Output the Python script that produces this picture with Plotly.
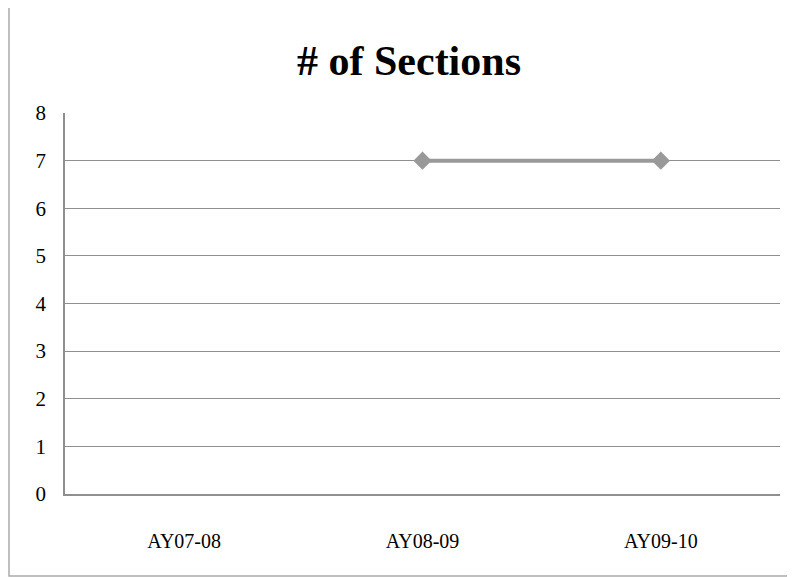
import plotly.graph_objects as go

categories = ["AY07-08", "AY08-09", "AY09-10"]
sections = [None, 7, 7]
y_ticks = [0, 1, 2, 3, 4, 5, 6, 7, 8]

# page body has an 8px margin: shrink figure and shift coordinates
OFF = 8
W, H = 795 - OFF, 577 - OFF
L, R, T, B = 65 - OFF, 15, 113 - OFF, 83
pw, ph = W - L - R, H - T - B

def px(x):
    return (x - OFF - L) / pw

def py(y):
    return (H - B - (y - OFF)) / ph

fig = go.Figure()
fig.add_trace(go.Scatter(
    x=categories, y=sections, mode="lines+markers",
    line=dict(color="#999999", width=4),
    marker=dict(symbol="diamond", size=14, color="#999999"),
    connectgaps=False, showlegend=False, hoverinfo="skip",
))

fig.update_layout(
    width=W, height=H,
    margin=dict(l=L, r=R, t=T, b=B),
    paper_bgcolor="white", plot_bgcolor="white",
    title=dict(text="<b># of Sections</b>", x=(409 - OFF) / W, xanchor="center",
               y=1 - (60 - OFF) / H, yanchor="middle",
               font=dict(family="Liberation Serif", size=42, color="#000")),
    xaxis=dict(type="category", categoryorder="array", categoryarray=categories,
               range=[-0.5, 2.5], showgrid=False, showline=True, linecolor="#8f8f8f",
               linewidth=1.5, ticks="", ticklen=0,
               tickfont=dict(family="Liberation Serif, serif", size=20, color="#000"),
               ticklabelstandoff=28),
    yaxis=dict(range=[0, 8], tickvals=y_ticks, showgrid=True, gridcolor="#8f8f8f",
               gridwidth=1.4, showline=True, linecolor="#8f8f8f", linewidth=1.5,
               zeroline=False, ticks="",
               tickfont=dict(family="Liberation Serif, serif", size=21, color="#000"),
               ticklabelstandoff=13),
    shapes=[dict(type="rect", xref="paper", yref="paper",
                 x0=px(9), x1=px(793), y0=py(576), y1=py(5),
                 line=dict(color="#aaaaaa", width=1.5), layer="below")],
)

fig.write_html("out.html")
